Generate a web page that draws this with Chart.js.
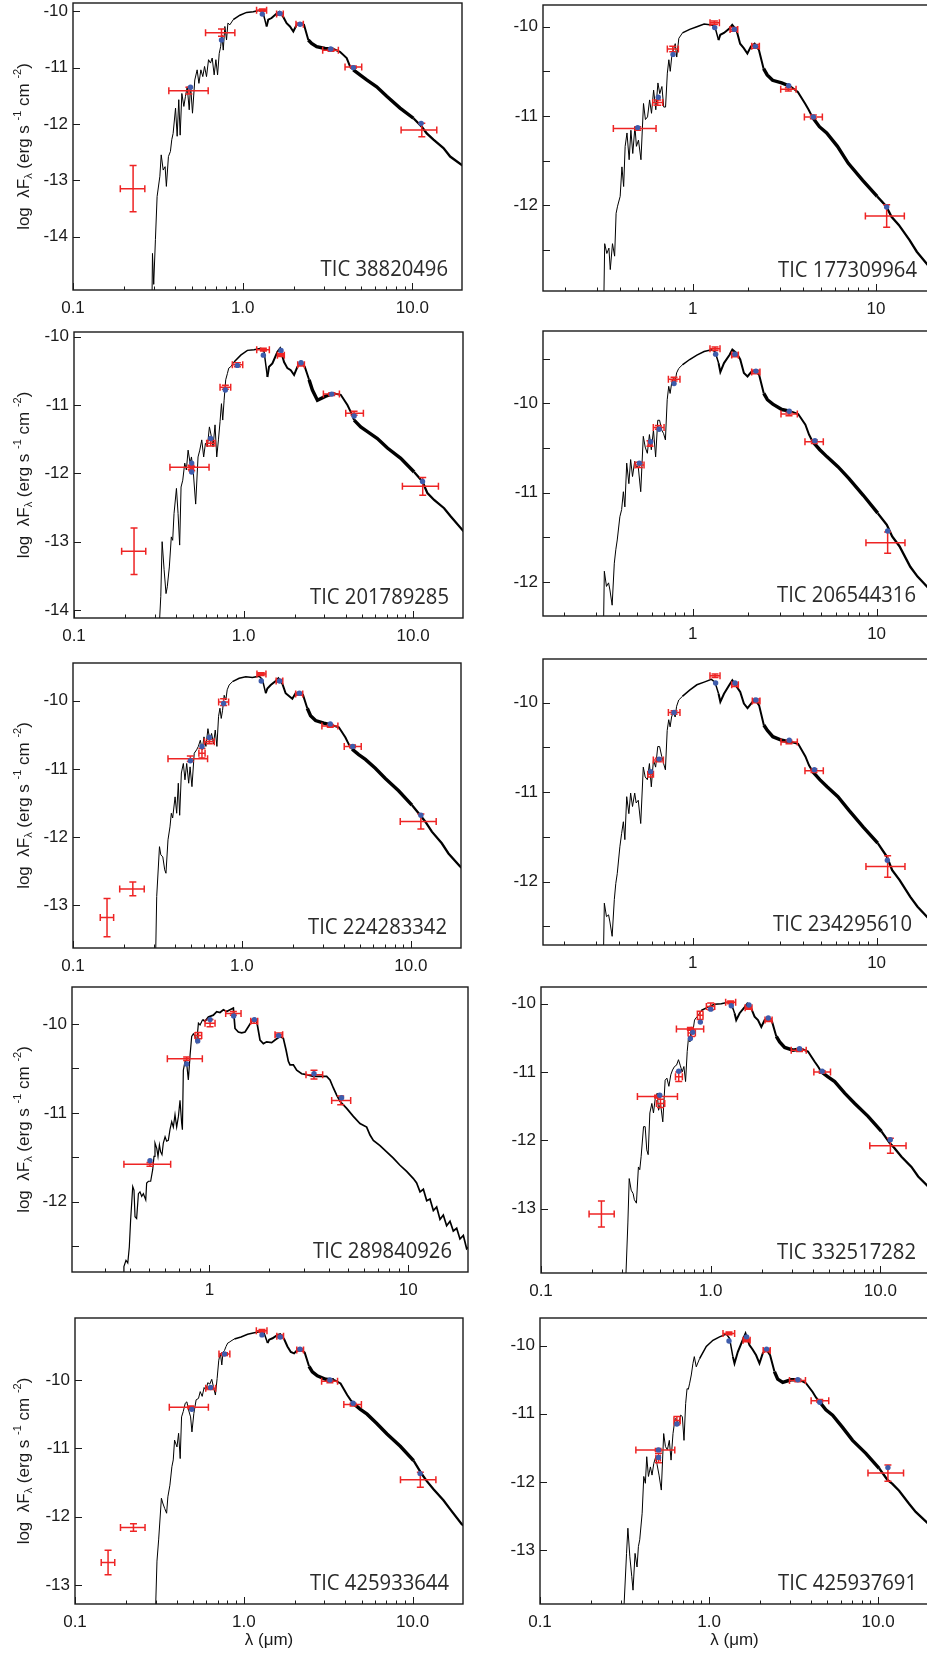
<!DOCTYPE html>
<html>
<head>
<meta charset="utf-8">
<script src="https://cdn.jsdelivr.net/npm/chart.js@4.4.1/dist/chart.umd.min.js"></script>
<style>
  html, body { margin: 0; padding: 0; background: #fff; overflow: hidden; }
  #page { position: relative; width: 927px; height: 1655px; overflow: hidden; background: #fff; }
  #page canvas { position: absolute; }
</style>
</head>
<body>
<div id="page"></div>
<script>
// ---- tick labels ----
const ticksA = [0.1, 1, 10];
const labelsA = ['0.1', '1.0', '10.0'];
const ticksB = [1, 10];
const labelsB = ['1', '10'];

// ---- model spectra: shared wavelength grid (micron), log lambda F_lambda ----
const modelWave = [0.290, 0.294, 0.299, 0.306, 0.313, 0.325, 0.331, 0.340, 0.349, 0.355,
  0.365, 0.375, 0.382, 0.389, 0.402, 0.411, 0.420, 0.428, 0.438, 0.450,
  0.460, 0.471, 0.484, 0.493, 0.506, 0.522, 0.539, 0.552, 0.567, 0.582,
  0.596, 0.612, 0.629, 0.646, 0.661, 0.679, 0.695, 0.711, 0.727, 0.741,
  0.754, 0.768, 0.785, 0.803, 0.818, 0.840, 0.879, 0.963, 1.054, 1.154,
  1.264, 1.322, 1.383, 1.414, 1.480, 1.585, 1.643, 1.734, 1.814, 1.899,
  1.987, 2.079, 2.176, 2.297, 2.436, 2.548, 2.728, 3.055, 3.421, 3.745,
  4.10, 4.29, 4.49, 4.91, 5.38, 6.16, 7.06, 8.46, 10.14, 11.36,
  12.15, 13.31, 15.24, 16.69, 19.56, 22.0];

const flux_38820496 = [-16, -14.30, -14.85, -14.05, -13.29, -12.93, -12.55, -12.82, -12.76, -13.11,
  -12.58, -12.49, -12.28, -12.17, -11.72, -12.22, -11.57, -12.20, -11.46, -11.69,
  -11.51, -11.34, -11.75, -11.31, -11.81, -11.22, -11.04, -11.28, -11.04, -11.16,
  -10.98, -11.16, -10.86, -10.92, -10.83, -11.13, -10.86, -11.13, -10.75, -10.63,
  -10.42, -10.69, -10.27, -10.51, -10.21, -10.24, -10.15, -10.07, -10.02, -10.01,
  -9.98, -10.04, -10.27, -10.15, -10.12, -10.04, -10.01, -10.10, -10.21, -10.27,
  -10.36, -10.24, -10.21, -10.24, -10.51, -10.57, -10.63, -10.66, -10.67, -10.72,
  -10.83, -10.98, -11.04, -11.13, -11.22, -11.34, -11.51, -11.72, -11.90, -12.05,
  -12.17, -12.28, -12.43, -12.58, -12.73, -12.85];

const flux_177309964 = [-14, -14, -14, -14, -14, -13.5, -12.43, -12.54, -12.48, -12.72,
  -12.43, -12.57, -12.09, -12.01, -11.90, -11.57, -11.79, -11.34, -11.19, -11.49,
  -11.16, -11.42, -11.12, -11.34, -11.27, -11.49, -10.86, -11.04, -11.01, -10.82,
  -10.97, -10.71, -10.93, -10.63, -10.75, -10.67, -10.90, -10.90, -10.52, -10.37,
  -10.50, -10.34, -10.26, -10.19, -10.34, -10.13, -10.07, -10.03, -10.00, -9.97,
  -9.98, -10.00, -10.15, -10.09, -10.07, -10.02, -9.98, -10.04, -10.19, -10.24,
  -10.30, -10.22, -10.19, -10.26, -10.47, -10.54, -10.60, -10.63, -10.67, -10.73,
  -10.86, -10.93, -11.01, -11.12, -11.19, -11.34, -11.53, -11.72, -11.90, -12.01,
  -12.13, -12.22, -12.39, -12.52, -12.69, -12.80];

const flux_201789285 = [-15, -15, -15, -15, -14.6, -13.8, -13.0, -13.41, -13.76, -13.66,
  -13.37, -12.93, -12.98, -12.59, -12.22, -12.59, -13.05, -12.20, -12.10, -11.85,
  -11.95, -11.66, -11.85, -11.76, -12.00, -12.45, -11.76, -11.66, -11.51, -11.76,
  -11.56, -11.61, -11.32, -11.46, -11.61, -11.29, -11.76, -11.51, -11.24, -10.98,
  -11.22, -10.93, -10.63, -10.54, -10.46, -10.44, -10.37, -10.27, -10.20, -10.19,
  -10.17, -10.22, -10.59, -10.44, -10.39, -10.22, -10.17, -10.37, -10.46, -10.49,
  -10.56, -10.44, -10.37, -10.44, -10.63, -10.78, -10.93, -10.87, -10.83, -10.85,
  -11.00, -11.10, -11.22, -11.32, -11.39, -11.49, -11.63, -11.78, -11.98, -12.12,
  -12.29, -12.39, -12.51, -12.63, -12.83, -12.95];

const flux_206544316 = [-13.5, -13.5, -13.5, -13.5, -13.5, -13.0, -11.88, -12.05, -12.01, -12.09,
  -12.26, -11.79, -11.64, -11.53, -11.27, -11.19, -10.99, -11.16, -10.67, -10.90,
  -10.63, -10.82, -10.65, -10.71, -10.71, -10.99, -10.37, -10.49, -10.56, -10.35,
  -10.52, -10.30, -10.60, -10.19, -10.19, -10.30, -10.34, -10.41, -9.96, -9.81,
  -9.89, -9.78, -9.72, -9.76, -9.66, -9.61, -9.57, -9.51, -9.46, -9.42,
  -9.40, -9.42, -9.55, -9.65, -9.55, -9.46, -9.40, -9.44, -9.51, -9.66,
  -9.70, -9.65, -9.63, -9.68, -9.89, -9.96, -10.01, -10.07, -10.09, -10.12,
  -10.24, -10.35, -10.43, -10.52, -10.60, -10.71, -10.84, -11.03, -11.23, -11.36,
  -11.49, -11.60, -11.83, -11.94, -12.09, -12.20];

const flux_224283342 = [-14.5, -14.5, -14.5, -14.2, -12.87, -12.14, -12.26, -12.29, -12.48, -12.53,
  -12.04, -11.85, -11.65, -11.72, -11.41, -11.65, -11.21, -11.68, -11.06, -10.92,
  -11.16, -10.92, -11.21, -10.97, -11.26, -10.77, -10.72, -10.67, -10.58, -10.72,
  -10.53, -10.67, -10.41, -10.58, -10.48, -10.63, -10.43, -10.67, -10.23, -10.11,
  -10.26, -10.14, -9.92, -9.99, -9.84, -9.77, -9.72, -9.67, -9.65, -9.66,
  -9.64, -9.69, -9.89, -9.82, -9.77, -9.71, -9.67, -9.75, -9.89, -9.93,
  -9.97, -9.89, -9.88, -9.91, -10.11, -10.22, -10.29, -10.33, -10.36, -10.39,
  -10.54, -10.64, -10.71, -10.79, -10.86, -10.99, -11.14, -11.32, -11.53, -11.68,
  -11.77, -11.92, -12.09, -12.24, -12.43, -12.55];

const flux_234295610 = [-13.5, -13.5, -13.5, -13.5, -13.5, -13.2, -12.24, -12.39, -12.37, -12.45,
  -12.61, -12.20, -12.02, -11.91, -11.61, -11.46, -11.33, -11.53, -11.05, -11.24,
  -11.01, -11.16, -11.01, -11.12, -11.09, -11.35, -10.72, -10.83, -10.86, -10.68,
  -10.94, -10.64, -10.72, -10.49, -10.49, -10.60, -10.68, -10.75, -10.31, -10.19,
  -10.27, -10.16, -10.10, -10.16, -10.04, -9.97, -9.93, -9.86, -9.80, -9.77,
  -9.74, -9.77, -9.90, -9.99, -9.90, -9.80, -9.75, -9.82, -9.88, -10.01,
  -10.06, -10.01, -9.96, -10.03, -10.25, -10.31, -10.38, -10.42, -10.44, -10.46,
  -10.60, -10.70, -10.77, -10.86, -10.94, -11.05, -11.20, -11.39, -11.57, -11.72,
  -11.87, -11.98, -12.17, -12.28, -12.43, -12.55];

const flux_332517282 = [-14.5, -14.5, -14.5, -14.5, -14.3, -13.21, -12.56, -12.73, -12.78, -12.87,
  -12.92, -12.39, -12.43, -12.24, -11.80, -11.80, -12.14, -12.21, -11.60, -11.46,
  -11.60, -11.39, -11.31, -11.56, -11.46, -11.73, -11.12, -11.09, -11.21, -11.04,
  -10.97, -10.92, -10.90, -10.82, -10.90, -11.00, -10.92, -11.14, -10.70, -10.48,
  -10.56, -10.34, -10.41, -10.24, -10.21, -10.18, -10.10, -10.05, -10.01, -10.00,
  -9.98, -10.00, -10.14, -10.24, -10.14, -10.05, -10.00, -10.07, -10.19, -10.24,
  -10.34, -10.24, -10.21, -10.26, -10.48, -10.56, -10.64, -10.68, -10.66, -10.70,
  -10.85, -10.92, -11.00, -11.07, -11.14, -11.31, -11.46, -11.65, -11.87, -12.04,
  -12.12, -12.24, -12.39, -12.53, -12.70, -12.82];

const flux_425933644 = [-13.6, -13.6, -13.5, -12.65, -12.34, -11.73, -11.80, -11.88, -11.95, -11.71,
  -11.54, -11.27, -11.17, -10.88, -10.98, -10.78, -11.15, -10.54, -10.46, -10.34,
  -10.32, -10.44, -10.54, -10.76, -10.49, -10.29, -10.27, -10.17, -10.24, -10.11,
  -10.15, -10.04, -10.06, -9.99, -10.10, -10.22, -9.98, -9.71, -9.61, -9.78,
  -9.59, -9.57, -9.51, -9.46, -9.45, -9.43, -9.40, -9.37, -9.33, -9.31,
  -9.29, -9.32, -9.46, -9.41, -9.39, -9.34, -9.33, -9.40, -9.51, -9.59,
  -9.61, -9.56, -9.55, -9.60, -9.80, -9.88, -9.94, -9.99, -10.00, -10.05,
  -10.22, -10.29, -10.35, -10.43, -10.50, -10.64, -10.79, -10.97, -11.18, -11.38,
  -11.48, -11.60, -11.76, -11.89, -12.11, -12.20];

const flux_425937691 = [-14.2, -14.2, -14.2, -14.2, -13.9, -13.05, -12.68, -13.10, -13.39, -13.59,
  -13.05, -13.25, -12.95, -12.85, -12.46, -11.92, -12.02, -11.63, -11.92, -11.78,
  -11.90, -11.73, -11.63, -11.75, -11.90, -12.12, -11.29, -11.48, -11.53, -11.39,
  -11.68, -11.29, -11.07, -11.09, -11.16, -11.02, -11.04, -11.39, -10.85, -10.63,
  -10.64, -10.55, -10.43, -10.26, -10.16, -10.31, -10.19, -10.01, -9.92, -9.87,
  -9.83, -9.89, -10.16, -10.26, -10.09, -9.91, -9.82, -9.99, -10.06, -10.14,
  -10.26, -10.11, -10.05, -10.14, -10.38, -10.49, -10.54, -10.50, -10.50, -10.55,
  -10.68, -10.76, -10.82, -10.94, -11.02, -11.20, -11.39, -11.58, -11.80, -11.97,
  -12.03, -12.13, -12.32, -12.44, -12.60, -12.70];

// lower resolution model, on its own grid
const wave_289840926 = [0.370, 0.372, 0.381, 0.389, 0.396, 0.402, 0.412, 0.418, 0.423, 0.431,
  0.440, 0.448, 0.457, 0.466, 0.479, 0.484, 0.494, 0.507, 0.519, 0.527,
  0.533, 0.544, 0.552, 0.561, 0.569, 0.578, 0.587, 0.599, 0.610, 0.622,
  0.634, 0.647, 0.659, 0.672, 0.685, 0.699, 0.712, 0.726, 0.732, 0.740,
  0.755, 0.769, 0.784, 0.800, 0.815, 0.831, 0.847, 0.864, 0.881, 0.898,
  0.926, 0.951, 0.989, 1.047, 1.089, 1.131, 1.176, 1.222, 1.320, 1.346,
  1.399, 1.454, 1.511, 1.570, 1.632, 1.696, 1.730, 1.797, 1.868, 1.941,
  2.057, 2.138, 2.265, 2.354, 2.428, 2.495, 2.543, 2.643, 2.748, 2.911,
  3.084, 3.332, 3.598, 3.887, 4.040, 4.200, 4.364, 4.536, 4.900, 5.292,
  5.716, 6.175, 6.418, 6.671, 7.205, 7.782, 8.407, 9.081, 9.809, 10.60,
  11.01, 11.45, 11.90, 12.37, 12.85, 13.36, 13.88, 14.43, 14.99, 15.58,
  16.20, 16.83, 17.50, 18.18, 18.90, 19.64, 20.41];
const flux_289840926 = [-13.2, -12.73, -12.66, -12.69, -12.51, -12.21, -11.83, -11.87, -12.17, -12.19,
  -11.91, -11.89, -11.94, -11.91, -11.98, -11.79, -11.77, -11.77, -11.64, -11.49,
  -11.34, -11.40, -11.49, -11.36, -11.44, -11.47, -11.34, -11.27, -11.32, -11.31,
  -11.19, -11.10, -11.16, -11.02, -11.16, -11.04, -10.86, -11.12, -11.19, -10.52,
  -10.42, -10.44, -10.63, -10.35, -10.14, -10.11, -10.14, -10.20, -9.99, -10.01,
  -9.95, -9.97, -9.92, -9.90, -9.86, -9.87, -9.84, -9.86, -9.82, -10.05,
  -10.09, -10.10, -10.09, -10.03, -9.97, -9.94, -9.97, -10.18, -10.22, -10.20,
  -10.21, -10.18, -10.14, -10.16, -10.29, -10.42, -10.46, -10.46, -10.52, -10.56,
  -10.57, -10.59, -10.59, -10.59, -10.63, -10.72, -10.80, -10.87, -10.95, -11.04,
  -11.12, -11.16, -11.25, -11.31, -11.37, -11.44, -11.51, -11.59, -11.66, -11.74,
  -11.79, -11.89, -11.86, -11.99, -11.97, -12.10, -12.06, -12.20, -12.15, -12.27,
  -12.22, -12.33, -12.30, -12.42, -12.38, -12.53, -12.50];

// ---- photometry (red): centre, filter range, flux, error; model points (blue) ----
const photWave_38820496 = [0.226, 0.482, 0.750, 1.304, 1.658, 2.176, 3.314, 4.489, 11.36];
const photLo_38820496   = [0.190, 0.367, 0.604, 1.207, 1.584, 2.060, 2.960, 4.009, 8.578];
const photHi_38820496   = [0.265, 0.626, 0.899, 1.383, 1.734, 2.276, 3.662, 5.027, 13.92];
const photFlux_38820496 = [-13.15, -11.41, -10.38, -9.98, -10.05, -10.23, -10.69, -10.99, -12.11];
const photErr_38820496  = [0.41, 0.06, 0.065, 0.02, 0.02, 0.02, 0.02, 0.02, 0.12];
const fitWave_38820496  = [0.4925, 0.750, 1.304, 1.658, 2.176, 3.30, 4.489, 11.26];
const fitFlux_38820496  = [-11.35, -10.51, -10.05, -10.04, -10.23, -10.67, -11.0, -11.99];

const photWave_177309964 = [0.501, 0.644, 0.778, 1.313, 1.681, 2.188, 3.325, 4.55, 11.43];
const photLo_177309964   = [0.369, 0.605, 0.727, 1.243, 1.598, 2.098, 3.02, 4.066, 8.748];
const photHi_177309964   = [0.631, 0.686, 0.835, 1.398, 1.760, 2.310, 3.662, 5.097, 14.27];
const photFlux_177309964 = [-11.14, -10.85, -10.25, -9.955, -10.03, -10.22, -10.70, -11.01, -12.12];
const photErr_177309964  = [0.02, 0.03, 0.03, 0.02, 0.02, 0.02, 0.02, 0.02, 0.125];
const fitWave_177309964  = [0.501, 0.649, 0.781, 1.318, 1.686, 2.196, 3.337, 4.55, 11.43];
const fitFlux_177309964  = [-11.13, -10.79, -10.31, -10.01, -10.03, -10.22, -10.66, -11.01, -12.02];

const photWave_201789285 = [0.226, 0.490, 0.4945, 0.640, 0.781, 0.920, 1.309, 1.664, 2.184, 3.313, 4.487, 11.40];
const photLo_201789285   = [0.191, 0.368, 0.485, 0.606, 0.727, 0.859, 1.196, 1.584, 2.087, 2.958, 4.007, 8.65];
const photHi_201789285   = [0.265, 0.626, 0.505, 0.679, 0.840, 0.989, 1.420, 1.740, 2.285, 3.677, 5.093, 14.11];
const photFlux_201789285 = [-13.14, -11.91, -11.93, -11.56, -10.74, -10.41, -10.19, -10.27, -10.41, -10.84, -11.12, -12.19];
const photErr_201789285  = [0.34, 0.03, 0.03, 0.04, 0.03, 0.03, 0.02, 0.02, 0.02, 0.02, 0.03, 0.13];
const fitWave_201789285  = [0.4945, 0.4945, 0.640, 0.781, 0.920, 1.309, 1.664, 2.184, 3.313, 4.49, 11.37];
const fitFlux_201789285  = [-11.85, -11.98, -11.49, -10.78, -10.42, -10.27, -10.20, -10.38, -10.84, -11.16, -12.12];

const photWave_206544316 = [0.513, 0.586, 0.651, 0.792, 1.323, 1.699, 2.200, 3.339, 4.583, 11.48];
const photLo_206544316   = [0.486, 0.573, 0.611, 0.738, 1.242, 1.63, 2.093, 3.021, 4.078, 8.75];
const photHi_206544316   = [0.544, 0.600, 0.699, 0.853, 1.408, 1.771, 2.322, 3.706, 5.130, 14.26];
const photFlux_206544316 = [-10.69, -10.45, -10.27, -9.73, -9.39, -9.46, -9.65, -10.12, -10.43, -11.56];
const photErr_206544316  = [0.03, 0.03, 0.02, 0.02, 0.02, 0.02, 0.02, 0.02, 0.02, 0.12];
const fitWave_206544316  = [0.513, 0.591, 0.657, 0.792, 1.333, 1.699, 2.207, 3.35, 4.62, 11.48];
const fitFlux_206544316  = [-10.67, -10.43, -10.29, -9.78, -9.45, -9.45, -9.64, -10.09, -10.42, -11.43];

const photWave_224283342 = [0.159, 0.226, 0.495, 0.580, 0.641, 0.779, 1.301, 1.671, 2.184, 3.332, 4.516, 11.46];
const photLo_224283342   = [0.145, 0.189, 0.365, 0.556, 0.599, 0.728, 1.227, 1.594, 2.080, 2.974, 4.032, 8.65];
const photHi_224283342   = [0.174, 0.264, 0.626, 0.605, 0.686, 0.834, 1.387, 1.745, 2.290, 3.698, 5.083, 14.12];
const photFlux_224283342 = [-13.18, -12.76, -10.85, -10.77, -10.60, -10.02, -9.61, -9.71, -9.90, -10.37, -10.67, -11.77];
const photErr_224283342  = [0.28, 0.10, 0.04, 0.07, 0.03, 0.05, 0.02, 0.02, 0.02, 0.02, 0.02, 0.11];
const fitWave_224283342  = [0.495, 0.580, 0.641, 0.779, 1.301, 1.671, 2.188, 3.332, 4.53, 11.46];
const fitFlux_224283342  = [-10.88, -10.67, -10.54, -10.04, -9.71, -9.71, -9.89, -10.34, -10.67, -11.68];

const photWave_234295610 = [0.591, 0.651, 0.792, 1.323, 1.699, 2.207, 3.339, 4.565, 11.48];
const photLo_234295610   = [0.570, 0.611, 0.738, 1.242, 1.63, 2.11, 3.021, 4.078, 8.75];
const photHi_234295610   = [0.612, 0.693, 0.853, 1.408, 1.771, 2.322, 3.706, 5.130, 14.26];
const photFlux_234295610 = [-10.80, -10.64, -10.11, -9.70, -9.80, -9.98, -10.44, -10.76, -11.83];
const photErr_234295610  = [0.03, 0.02, 0.02, 0.02, 0.02, 0.02, 0.02, 0.02, 0.12];
const fitWave_234295610  = [0.591, 0.657, 0.792, 1.333, 1.699, 2.207, 3.35, 4.59, 11.44];
const fitFlux_234295610  = [-10.77, -10.63, -10.11, -9.78, -9.78, -9.97, -10.42, -10.75, -11.76];

const photWave_289840926 = [0.503, 0.769, 0.881, 1.008, 1.320, 1.677, 2.239, 3.357, 4.571];
const photLo_289840926   = [0.372, 0.615, 0.847, 0.951, 1.208, 1.614, 2.138, 3.060, 4.119];
const photHi_289840926   = [0.639, 0.922, 0.915, 1.068, 1.443, 1.750, 2.336, 3.711, 5.132];
const photFlux_289840926 = [-11.58, -10.39, -10.13, -9.99, -9.88, -9.97, -10.12, -10.57, -10.86];
const photErr_289840926  = [0.02, 0.02, 0.035, 0.04, 0.02, 0.02, 0.02, 0.05, 0.05];
const fitWave_289840926  = [0.503, 0.769, 0.874, 1.008, 1.325, 1.683, 2.230, 3.357, 4.62];
const fitFlux_289840926  = [-11.54, -10.45, -10.19, -9.95, -9.91, -9.95, -10.13, -10.56, -10.83];

const photWave_332517282 = [0.227, 0.486, 0.506, 0.648, 0.759, 0.770, 0.866, 1.0, 1.311, 1.673, 2.194, 3.338, 4.538, 11.45];
const photLo_332517282   = [0.192, 0.370, 0.479, 0.620, 0.628, 0.736, 0.835, 0.943, 1.225, 1.596, 2.090, 2.982, 4.054, 8.66];
const photHi_332517282   = [0.270, 0.637, 0.536, 0.681, 0.909, 0.812, 0.901, 1.056, 1.403, 1.751, 2.300, 3.654, 5.081, 14.16];
const photFlux_332517282 = [-13.08, -11.36, -11.46, -11.07, -10.37, -10.43, -10.17, -10.04, -9.98, -10.06, -10.24, -10.68, -11.00, -12.08];
const photErr_332517282  = [0.19, 0.02, 0.06, 0.07, 0.02, 0.05, 0.06, 0.05, 0.02, 0.02, 0.02, 0.02, 0.02, 0.11];
const fitWave_332517282  = [0.501, 0.648, 0.759, 0.784, 0.869, 1.0, 1.322, 1.68, 2.184, 3.338, 4.538, 11.43];
const fitFlux_332517282  = [-11.34, -10.99, -10.51, -10.42, -10.27, -10.08, -10.03, -10.02, -10.21, -10.66, -10.99, -11.99];

const photWave_425933644 = [0.157, 0.222, 0.485, 0.636, 0.769, 1.282, 1.644, 2.157, 3.238, 4.443, 11.12];
const photLo_425933644   = [0.143, 0.186, 0.362, 0.595, 0.713, 1.187, 1.570, 2.060, 2.892, 3.915, 8.48];
const photHi_425933644   = [0.172, 0.260, 0.617, 0.681, 0.827, 1.372, 1.720, 2.260, 3.594, 4.976, 13.75];
const photFlux_425933644 = [-12.67, -12.16, -10.40, -10.12, -9.62, -9.28, -9.36, -9.56, -10.02, -10.36, -11.46];
const photErr_425933644  = [0.18, 0.055, 0.02, 0.02, 0.02, 0.02, 0.02, 0.02, 0.02, 0.02, 0.11];
const fitWave_425933644  = [0.492, 0.636, 0.769, 1.282, 1.644, 2.153, 3.238, 4.443, 11.09];
const fitFlux_425933644  = [-10.43, -10.11, -9.62, -9.34, -9.37, -9.55, -10.0, -10.34, -11.37];

const photWave_425937691 = [0.500, 0.502, 0.645, 1.312, 1.668, 2.189, 3.351, 4.517, 11.43];
const photLo_425937691   = [0.369, 0.485, 0.620, 1.209, 1.590, 2.090, 2.992, 4.016, 8.71];
const photHi_425937691   = [0.627, 0.515, 0.675, 1.417, 1.750, 2.300, 3.718, 5.105, 14.14];
const photFlux_425937691 = [-11.53, -11.65, -11.10, -9.82, -9.92, -10.07, -10.51, -10.81, -11.87];
const photErr_425937691  = [0.02, 0.07, 0.06, 0.02, 0.02, 0.02, 0.02, 0.02, 0.12];
const fitWave_425937691  = [0.502, 0.502, 0.645, 1.312, 1.668, 2.189, 3.351, 4.517, 11.43];
const fitFlux_425937691  = [-11.53, -11.64, -11.15, -9.93, -9.87, -10.05, -10.50, -10.83, -11.79];

// ---- layout ----
const PAD_LEFT = 72, PAD_TOP = 16, PAD_RIGHT = 6, PAD_BOTTOM = 52;
const FONT = '"Liberation Sans", Arial, Helvetica, sans-serif';
const RED = 'rgb(238, 36, 36)';
const BLUE = 'rgb(62, 92, 172)';

// frame = [left, top, width, height] of the plot box on the page
const panels = [
  { tic: '38820496', row: 0, col: 0, frame: [73, 3, 389, 287], x: [0.1, 19.6], y: [-14.95, -9.853], style: 'A', inset: 14,
    wave: modelWave, flux: flux_38820496, fitW: fitWave_38820496, fitF: fitFlux_38820496,
    phot: { wave: photWave_38820496, lo: photLo_38820496, hi: photHi_38820496, flux: photFlux_38820496, err: photErr_38820496 } },
  { tic: '177309964', row: 0, col: 1, frame: [543, 5, 389, 286], x: [0.1525, 20.2], y: [-12.96, -9.757], style: 'B', inset: 15,
    wave: modelWave, flux: flux_177309964, fitW: fitWave_177309964, fitF: fitFlux_177309964,
    phot: { wave: photWave_177309964, lo: photLo_177309964, hi: photHi_177309964, flux: photFlux_177309964, err: photErr_177309964 } },
  { tic: '201789285', row: 1, col: 0, frame: [74, 332, 389, 286], x: [0.1, 19.7], y: [-14.117, -9.931], style: 'A', inset: 14,
    wave: modelWave, flux: flux_201789285, fitW: fitWave_201789285, fitF: fitFlux_201789285,
    phot: { wave: photWave_201789285, lo: photLo_201789285, hi: photHi_201789285, flux: photFlux_201789285, err: photErr_201789285 } },
  { tic: '206544316', row: 1, col: 1, frame: [543, 331, 389, 285], x: [0.1536, 20.0], y: [-12.381, -9.191], style: 'B', inset: 16,
    wave: modelWave, flux: flux_206544316, fitW: fitWave_206544316, fitF: fitFlux_206544316,
    phot: { wave: photWave_206544316, lo: photLo_206544316, hi: photHi_206544316, flux: photFlux_206544316, err: photErr_206544316 } },
  { tic: '224283342', row: 2, col: 0, frame: [73, 663, 388, 285], x: [0.1, 19.8], y: [-13.626, -9.447], style: 'A', inset: 14,
    wave: modelWave, flux: flux_224283342, fitW: fitWave_224283342, fitF: fitFlux_224283342,
    phot: { wave: photWave_224283342, lo: photLo_224283342, hi: photHi_224283342, flux: photFlux_224283342, err: photErr_224283342 } },
  { tic: '234295610', row: 2, col: 1, frame: [543, 659, 389, 286], x: [0.1536, 20.0], y: [-12.707, -9.512], style: 'B', inset: 20,
    wave: modelWave, flux: flux_234295610, fitW: fitWave_234295610, fitF: fitFlux_234295610,
    phot: { wave: photWave_234295610, lo: photLo_234295610, hi: photHi_234295610, flux: photFlux_234295610, err: photErr_234295610 } },
  { tic: '289840926', row: 3, col: 0, frame: [72, 987, 396, 285], x: [0.204, 19.95], y: [-12.792, -9.583], style: 'B', inset: 16, smooth: true,
    wave: wave_289840926, flux: flux_289840926, fitW: fitWave_289840926, fitF: fitFlux_289840926,
    phot: { wave: photWave_289840926, lo: photLo_289840926, hi: photHi_289840926, flux: photFlux_289840926, err: photErr_289840926 } },
  { tic: '332517282', row: 3, col: 1, frame: [541, 987, 389, 286], x: [0.1, 19.6], y: [-13.942, -9.756], style: 'A', inset: 14,
    wave: modelWave, flux: flux_332517282, fitW: fitWave_332517282, fitF: fitFlux_332517282,
    phot: { wave: photWave_332517282, lo: photLo_332517282, hi: photHi_332517282, flux: photFlux_332517282, err: photErr_332517282 } },
  { tic: '425933644', row: 4, col: 0, frame: [75, 1318, 388, 286], x: [0.1, 19.9], y: [-13.278, -9.093], style: 'A', inset: 14,
    wave: modelWave, flux: flux_425933644, fitW: fitWave_425933644, fitF: fitFlux_425933644,
    phot: { wave: photWave_425933644, lo: photLo_425933644, hi: photHi_425933644, flux: photFlux_425933644, err: photErr_425933644 } },
  { tic: '425937691', row: 4, col: 1, frame: [540, 1318, 389, 286], x: [0.1, 20.0], y: [-13.793, -9.593], style: 'A', inset: 12,
    wave: modelWave, flux: flux_425937691, fitW: fitWave_425937691, fitF: fitFlux_425937691,
    phot: { wave: photWave_425937691, lo: photLo_425937691, hi: photHi_425937691, flux: photFlux_425937691, err: photErr_425937691 } }
];

// spectrum line gets heavier where the model is dense with lines
function lineWidthAt(w, smooth) {
  if (smooth) return w < 0.9 ? 1.2 : 1.7;
  if (w < 0.86) return 1;
  if (w < 1.36) return 1.5;
  if (w < 2.35) return 2;
  if (w < 3.1) return 3.4;
  if (w < 4.3) return 2;
  if (w < 9) return 3.4;
  return 2.3;
}

// red photometric points with filter width and flux error
const errorBars = {
  id: 'errorBars',
  afterDatasetDraw(chart, args, opts) {
    if (args.index !== 0) return;
    const { ctx, chartArea: a, scales: { x, y } } = chart;
    const p = opts.phot;
    const cap = 3.5;
    ctx.save();
    ctx.beginPath();
    ctx.rect(a.left, a.top, a.right - a.left, a.bottom - a.top);
    ctx.clip();
    ctx.strokeStyle = RED;
    ctx.lineWidth = 1.5;
    for (let i = 0; i < p.wave.length; i++) {
      const cx = x.getPixelForValue(p.wave[i]);
      const cy = y.getPixelForValue(p.flux[i]);
      const xl = x.getPixelForValue(p.lo[i]);
      const xh = x.getPixelForValue(p.hi[i]);
      const yt = y.getPixelForValue(p.flux[i] + p.err[i]);
      const yb = y.getPixelForValue(p.flux[i] - p.err[i]);
      ctx.beginPath();
      ctx.moveTo(xl, cy); ctx.lineTo(xh, cy);
      ctx.moveTo(xl, cy - cap); ctx.lineTo(xl, cy + cap);
      ctx.moveTo(xh, cy - cap); ctx.lineTo(xh, cy + cap);
      ctx.moveTo(cx, yt); ctx.lineTo(cx, yb);
      ctx.moveTo(cx - cap, yt); ctx.lineTo(cx + cap, yt);
      ctx.moveTo(cx - cap, yb); ctx.lineTo(cx + cap, yb);
      ctx.stroke();
    }
    ctx.restore();
  }
};

function drawYTitle(ctx, cx, cy) {
  const fs = 17, small = 11;
  const parts = [['log  ', fs, 0], ['\u03bbF', fs, 0], ['\u03bb', small, 4], [' (erg s ', fs, 0],
    ['-1', small, -7], [' cm ', fs, 0], ['-2', small, -7], [')', fs, 0]];
  ctx.save();
  ctx.translate(cx, cy);
  ctx.rotate(-Math.PI / 2);
  ctx.fillStyle = '#1a1a1a';
  ctx.textBaseline = 'middle';
  ctx.textAlign = 'left';
  let total = 0;
  for (const [t, s] of parts) { ctx.font = s + 'px ' + FONT; total += ctx.measureText(t).width; }
  let pos = -total / 2;
  for (const [t, s, dy] of parts) {
    ctx.font = s + 'px ' + FONT;
    ctx.fillText(t, pos, dy);
    pos += ctx.measureText(t).width;
  }
  ctx.restore();
}

// frame, inward ticks, star name and axis titles
const sedFrame = {
  id: 'sedFrame',
  afterDraw(chart, args, opts) {
    const { ctx, chartArea: a, scales: { x, y } } = chart;
    const p = opts.panel;
    ctx.save();
    ctx.strokeStyle = '#1a1a1a';
    ctx.lineWidth = 1;
    ctx.beginPath();
    for (let d = -1; d <= 1; d++) {
      for (let m = 1; m <= 9; m++) {
        const v = m * Math.pow(10, d);
        if (v < p.x[0] * 0.999 || v > p.x[1]) continue;
        const px = Math.round(x.getPixelForValue(v)) + 0.5;
        const len = m === 1 ? 7 : 3.5;
        ctx.moveTo(px, a.bottom); ctx.lineTo(px, a.bottom - len);
      }
    }
    const step = p.style === 'B' ? 0.5 : 1;
    for (let v = Math.ceil(p.y[0] / step) * step; v <= p.y[1]; v += step) {
      const py = Math.round(y.getPixelForValue(v)) + 0.5;
      ctx.moveTo(a.left, py); ctx.lineTo(a.left + 7, py);
    }
    ctx.stroke();

    ctx.lineWidth = 1.4;
    ctx.strokeRect(a.left, a.top, a.right - a.left, a.bottom - a.top);

    // star name
    ctx.save();
    ctx.fillStyle = '#2a2a2a';
    ctx.font = '22px "Open Sans", ' + FONT;
    ctx.textAlign = 'right';
    ctx.textBaseline = 'alphabetic';
    ctx.translate(a.right - p.inset, a.bottom - 14);
    ctx.scale(0.92, 1);
    ctx.fillText('TIC ' + p.tic, 0, 0);
    ctx.restore();

    if (p.col === 0) {
      const left = p.frame[0] - PAD_LEFT;
      drawYTitle(ctx, 24.5 - left, (a.top + a.bottom) / 2);
    }
    if (p.row === 4) {
      ctx.fillStyle = '#1a1a1a';
      ctx.font = '17px ' + FONT;
      ctx.textAlign = 'center';
      ctx.textBaseline = 'middle';
      ctx.fillText('\u03bb (\u03bcm)', (a.left + a.right) / 2, a.bottom + 36);
    }
    ctx.restore();
  }
};

const page = document.getElementById('page');

panels.forEach(p => {
  const [fx, fy, fw, fh] = p.frame;
  const canvas = document.createElement('canvas');
  canvas.width = PAD_LEFT + fw + PAD_RIGHT;
  canvas.height = PAD_TOP + fh + PAD_BOTTOM;
  canvas.style.left = (fx - PAD_LEFT) + 'px';
  canvas.style.top = (fy - PAD_TOP) + 'px';
  canvas.style.width = canvas.width + 'px';
  canvas.style.height = canvas.height + 'px';
  page.appendChild(canvas);

  const xTicks = p.style === 'A' ? ticksA : ticksB;
  const xLabels = p.style === 'A' ? labelsA : labelsB;
  const yTicks = [];
  for (let v = Math.ceil(p.y[0]); v <= p.y[1]; v++) yTicks.push(v);

  new Chart(canvas, {
    type: 'line',
    data: {
      datasets: [
        {
          data: p.wave.map((w, i) => ({ x: w, y: p.flux[i] })),
          borderColor: '#000',
          borderWidth: 1,
          pointRadius: 0,
          tension: 0,
          order: 2,
          segment: { borderWidth: c => lineWidthAt(c.p0.parsed.x, p.smooth) }
        },
        {
          data: p.fitW.map((w, i) => ({ x: w, y: p.fitF[i] })),
          showLine: false,
          pointRadius: 2.7,
          pointBackgroundColor: BLUE,
          pointBorderWidth: 0,
          order: 1
        }
      ]
    },
    options: {
      responsive: false,
      animation: false,
      events: [],
      layout: { padding: { top: PAD_TOP, right: PAD_RIGHT, left: 0, bottom: 0 } },
      scales: {
        x: {
          type: 'logarithmic',
          min: p.x[0],
          max: p.x[1],
          grid: { display: false, drawTicks: false },
          border: { display: false },
          afterBuildTicks: s => { s.ticks = xTicks.map(v => ({ value: v })); },
          afterFit: s => { s.height = PAD_BOTTOM; },
          ticks: {
            autoSkip: false, maxRotation: 0, minRotation: 0, padding: 8,
            color: '#1a1a1a', font: { family: FONT, size: 17 },
            callback: (v, i) => xLabels[i]
          }
        },
        y: {
          type: 'linear',
          min: p.y[0],
          max: p.y[1],
          grid: { display: false, drawTicks: false },
          border: { display: false },
          afterBuildTicks: s => { s.ticks = yTicks.map(v => ({ value: v })); },
          afterFit: s => { s.width = PAD_LEFT; },
          ticks: {
            autoSkip: false, padding: 5,
            color: '#1a1a1a', font: { family: FONT, size: 17 },
            callback: v => String(v)
          }
        }
      },
      plugins: {
        legend: { display: false },
        tooltip: { enabled: false },
        sedFrame: { panel: p },
        errorBars: { phot: p.phot }
      }
    },
    plugins: [errorBars, sedFrame]
  });
});
</script>
</body>
</html>
